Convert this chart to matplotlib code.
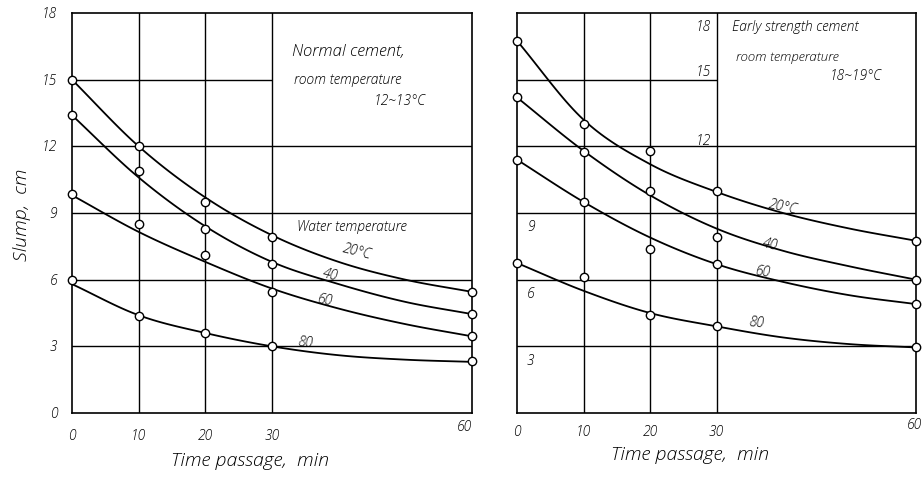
"""Slump loss vs time passage, normal vs early strength cement."""

import matplotlib
matplotlib.use("Agg")
import matplotlib.pyplot as plt
import numpy as np

FONT = dict(family=["Open Sans", "DejaVu Sans"], style="italic", weight="light")

# ------------------------------------------------------------
# data
# ------------------------------------------------------------
time_pts = [0, 10, 20, 30, 60]
curve_t = [0, 10, 20, 30, 40, 50, 60]
water_temps = ["20°C", "40", "60", "80"]

# normal cement, measured points
normal_20 = [15.0, 12.0, 9.5, 7.9, 5.45]
normal_40 = [13.4, 10.9, 8.3, 6.7, 4.45]
normal_60 = [9.85, 8.5, 7.1, 5.45, 3.45]
normal_80 = [6.0, 4.35, 3.6, 3.0, 2.35]
# normal cement, drawn curves
normal_20_c = [15.0, 12.0, 9.7, 8.0, 6.8, 6.0, 5.45]
normal_40_c = [13.4, 10.6, 8.4, 6.8, 5.8, 5.0, 4.45]
normal_60_c = [9.8, 8.15, 6.8, 5.6, 4.7, 4.0, 3.45]
normal_80_c = [5.8, 4.4, 3.6, 3.0, 2.6, 2.4, 2.3]

# early strength cement, measured points
early_20 = [16.75, 13.0, 11.8, 10.0, 7.75]
early_40 = [14.2, 11.75, 10.0, 7.9, 6.0]
early_60 = [11.4, 9.5, 7.4, 6.7, 4.9]
early_80 = [6.75, 6.1, 4.4, 3.9, 2.95]
# early strength cement, drawn curves
early_20_c = [16.75, 13.2, 11.2, 9.95, 9.0, 8.3, 7.75]
early_40_c = [14.2, 11.8, 9.8, 8.3, 7.3, 6.6, 6.0]
early_60_c = [11.4, 9.5, 7.9, 6.7, 5.9, 5.3, 4.9]
early_80_c = [6.75, 5.5, 4.5, 3.9, 3.4, 3.1, 2.95]

y_ticks = [0, 3, 6, 9, 12, 15, 18]
x_ticks = [0, 10, 20, 30, 60]


def _smooth(x, y, n=20):
    """Cubic Hermite pass through the read curve values (drawing only)."""
    x = np.asarray(x, float)
    y = np.asarray(y, float)
    xs, ys = [], []
    for i in range(len(x) - 1):
        x0, x1 = x[i], x[i + 1]
        y0, y1 = y[i], y[i + 1]
        m0 = (y[i + 1] - y[i - 1]) / (x[i + 1] - x[i - 1]) if i > 0 else (y1 - y0) / (x1 - x0)
        m1 = (y[i + 2] - y[i]) / (x[i + 2] - x[i]) if i < len(x) - 2 else (y1 - y0) / (x1 - x0)
        t = np.linspace(0, 1, n)
        h = x1 - x0
        h00 = 2 * t**3 - 3 * t**2 + 1
        h10 = t**3 - 2 * t**2 + t
        h01 = -2 * t**3 + 3 * t**2
        h11 = t**3 - t**2
        xs.append(x0 + t * h)
        ys.append(h00 * y0 + h10 * h * m0 + h01 * y1 + h11 * h * m1)
    return np.concatenate(xs), np.concatenate(ys)


def _panel(ax, points, curves):
    ax.set_xlim(0, 60)
    ax.set_ylim(0, 18)
    ax.set_xticks([])
    ax.set_yticks([])
    for s in ax.spines.values():
        s.set_linewidth(1.2)
    # grid
    for x in [10, 20, 30]:
        ax.axvline(x, color="black", lw=1.0, zorder=1)
    for y in [3, 6, 9, 12]:
        ax.axhline(y, color="black", lw=1.0, zorder=1)
    ax.hlines(15, 0, 30, color="black", lw=1.0, zorder=1)
    for pts, crv in zip(points, curves):
        cx, cy = _smooth(curve_t, crv)
        ax.plot(cx, cy, color="black", lw=1.3, zorder=2, clip_on=False)
        ax.plot(time_pts, pts, "o", ms=6, mfc="white", mec="black",
                mew=1.0, zorder=3, clip_on=False)


fig = plt.figure(figsize=(9.23, 4.85), dpi=100)
axL = fig.add_axes([72 / 923, 71 / 485, 400 / 923, 400 / 485])
axR = fig.add_axes([517 / 923, 71 / 485, 399 / 923, 400 / 485])

_panel(axL, [normal_20, normal_40, normal_60, normal_80],
       [normal_20_c, normal_40_c, normal_60_c, normal_80_c])
_panel(axR, [early_20, early_40, early_60, early_80],
       [early_20_c, early_40_c, early_60_c, early_80_c])

# left panel tick labels
for y in y_ticks:
    axL.text(-2.2, y, str(y), ha="right", va="center", fontsize=10, **FONT)
for x in x_ticks[:-1]:
    axL.text(x, -1.0, str(x), ha="center", va="center", fontsize=10, **FONT)
axL.text(x_ticks[-1] - 1.2, -0.6, str(x_ticks[-1]), ha="center", va="center",
         fontsize=10, **FONT)

# right panel tick labels (inside the grid)
for y, (tx, ty, ha) in zip(y_ticks[1:], [(1.5, -0.6, "left"), (1.5, -0.6, "left"),
                                         (1.5, -0.6, "left"), (29.2, 0.3, "right"),
                                         (29.2, 0.4, "right"), (29.2, -0.6, "right")]):
    axR.text(tx, y + ty, str(y), ha=ha, va="center", fontsize=10, **FONT)
for x in x_ticks[:-1]:
    axR.text(x, -0.8, str(x), ha="center", va="center", fontsize=10, **FONT)
axR.text(x_ticks[-1] - 0.3, -0.5, str(x_ticks[-1]), ha="center", va="center",
         fontsize=10, **FONT)

# curve labels
for (x, y, r), lab in zip([(42.7, 7.3, -14), (38.7, 6.25, -14), (38, 5.1, -10), (35, 3.2, -5)],
                          water_temps):
    axL.text(x, y, lab, ha="center", va="center", fontsize=10, rotation=r,
             zorder=4, **FONT)
for (x, y, r), lab in zip([(40, 9.3, -12), (38, 7.6, -12), (37, 6.4, -8), (36, 4.1, -6)],
                          water_temps):
    axR.text(x, y, lab, ha="center", va="center", fontsize=10, rotation=r,
             zorder=4, **FONT)

# annotations
axL.text(33, 16.3, "Normal cement,", ha="left", va="center", fontsize=12, **FONT)
axL.text(33.3, 15.05, "room temperature", ha="left", va="center", fontsize=10, **FONT)
axL.text(45.3, 14.1, "12~13°C", ha="left", va="center", fontsize=10, **FONT)
axL.text(33.8, 8.4, "Water temperature", ha="left", va="center", fontsize=10, **FONT)

axR.text(32.3, 17.4, "Early strength cement", ha="left", va="center", fontsize=10, **FONT)
axR.text(33.0, 16.05, "room temperature", ha="left", va="center", fontsize=9.5, **FONT)
axR.text(47.0, 15.2, "18~19°C", ha="left", va="center", fontsize=10, **FONT)

# axis titles
fig.text(250 / 923, 1 - 461 / 485, "Time passage,  min", ha="center", va="center",
         fontsize=14, **FONT)
fig.text(690 / 923, 1 - 455 / 485, "Time passage,  min", ha="center", va="center",
         fontsize=14, **FONT)
fig.text(22 / 923, 1 - 215 / 485, "Slump,  cm", ha="center", va="center",
         rotation=90, fontsize=14, **FONT)

fig.savefig("out.png", dpi=100, facecolor="white")
